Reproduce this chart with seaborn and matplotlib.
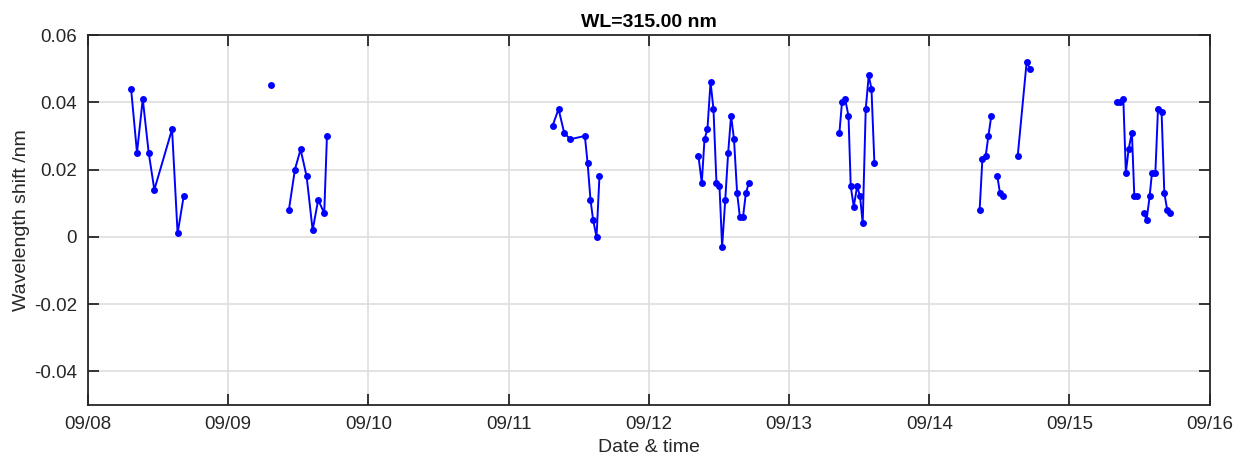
import pandas as pd
import matplotlib
matplotlib.use('Agg')
import matplotlib.pyplot as plt
import matplotlib.dates as mdates
import seaborn as sns

times = [
    '09-08 07:22', '09-08 08:23', '09-08 09:22', '09-08 10:23', '09-08 11:21', '09-08 14:23', '09-08 15:20', '09-08 16:22',
    '09-09 07:22',
    '09-09 10:23', '09-09 11:25', '09-09 12:23', '09-09 13:25', '09-09 14:27', '09-09 15:24', '09-09 16:26', '09-09 16:54',
    '09-11 07:31', '09-11 08:33', '09-11 09:30', '09-11 10:32', '09-11 13:03', '09-11 13:31', '09-11 14:01', '09-11 14:28',
    '09-11 15:03', '09-11 15:33',
    '09-12 08:30', '09-12 09:04', '09-12 09:32', '09-12 10:02', '09-12 10:34', '09-12 11:04', '09-12 11:35', '09-12 12:06',
    '09-12 12:33', '09-12 13:05', '09-12 13:35', '09-12 14:05', '09-12 14:35', '09-12 15:07', '09-12 15:35', '09-12 16:08',
    '09-12 16:37', '09-12 17:07',
    '09-13 08:38', '09-13 09:04', '09-13 09:36', '09-13 10:11', '09-13 10:34', '09-13 11:05', '09-13 11:40', '09-13 12:10',
    '09-13 12:37', '09-13 13:08', '09-13 13:39', '09-13 14:07', '09-13 14:37',
    '09-14 08:38', '09-14 09:06', '09-14 09:40', '09-14 10:08', '09-14 10:38',
    '09-14 11:40', '09-14 12:07', '09-14 12:37',
    '09-14 15:09', '09-14 16:41', '09-14 17:13',
    '09-15 08:05', '09-15 08:40', '09-15 09:14', '09-15 09:40', '09-15 10:08', '09-15 10:42', '09-15 11:07', '09-15 11:38',
    '09-15 12:46', '09-15 13:13', '09-15 13:44', '09-15 14:08', '09-15 14:43', '09-15 15:10', '09-15 15:47', '09-15 16:15',
    '09-15 16:45', '09-15 17:17',
]

# wavelength shift in nm
shift = [
    0.044, 0.025, 0.041, 0.025, 0.014, 0.032, 0.001, 0.012,
    0.045,
    0.008, 0.020, 0.026, 0.018, 0.002, 0.011, 0.007, 0.030,
    0.033, 0.038, 0.031, 0.029, 0.030, 0.022, 0.011, 0.005, 0.000, 0.018,
    0.024, 0.016, 0.029, 0.032, 0.046, 0.038, 0.016, 0.015, -0.003, 0.011, 0.025, 0.036,
    0.029, 0.013, 0.006, 0.006, 0.013, 0.016,
    0.031, 0.040, 0.041, 0.036, 0.015, 0.009, 0.015, 0.012, 0.004, 0.038, 0.048, 0.044, 0.022,
    0.008, 0.023, 0.024, 0.030, 0.036,
    0.018, 0.013, 0.012,
    0.024, 0.052, 0.050,
    0.040, 0.040, 0.041, 0.019, 0.026, 0.031, 0.012, 0.012,
    0.007, 0.005, 0.012, 0.019, 0.019, 0.038, 0.037, 0.013, 0.008, 0.007,
]

# continuous pieces of the line (gaps in the record)
segment = ([1] * 8 + [2] + [3] * 8 + [4] * 10 + [5] * 18 + [6] * 13
           + [7] * 5 + [8] * 3 + [9] * 3 + [10] * 8 + [11] * 10)

df = pd.DataFrame({'time': pd.to_datetime(['2021-' + t for t in times]),
                   'shift': shift, 'segment': segment})

sns.set_style('ticks')
plt.rcParams['font.family'] = ['Liberation Sans', 'DejaVu Sans']
dark = '#262626'

fig = plt.figure(figsize=(12.47, 4.61), dpi=100)
ax = fig.add_axes([0.0706, 0.1215, 0.8994, 0.8025])

sns.lineplot(data=df, x='time', y='shift', units='segment', estimator=None,
             color='blue', marker='o', markersize=5, markeredgewidth=0,
             linewidth=1.4, ax=ax)

ax.set_xlim(pd.Timestamp('2021-09-08'), pd.Timestamp('2021-09-16'))
ax.set_ylim(-0.05, 0.06)
ax.set_yticks([-0.04, -0.02, 0, 0.02, 0.04, 0.06])
ax.set_yticklabels(['-0.04', '-0.02', '0', '0.02', '0.04', '0.06'])
ax.xaxis.set_major_locator(mdates.DayLocator())
ax.xaxis.set_major_formatter(mdates.DateFormatter('%m/%d'))

ax.grid(True, color='#dedede', linewidth=1.2)
ax.set_axisbelow(True)
for s in ax.spines.values():
    s.set_visible(True)
    s.set_color(dark)
    s.set_linewidth(1.3)
ax.tick_params(direction='in', length=8, width=1.3, color=dark, labelcolor=dark,
               labelsize=13.5, top=True, right=True, pad=8)

ax.set_title('WL=315.00 nm', fontsize=14, fontweight='bold', color='black', pad=6)
ax.set_xlabel('Date & time', fontsize=14, color=dark, labelpad=4)
ax.set_ylabel('Wavelength shift /nm', fontsize=14, color=dark, labelpad=3)

fig.savefig('out.png', dpi=100)
